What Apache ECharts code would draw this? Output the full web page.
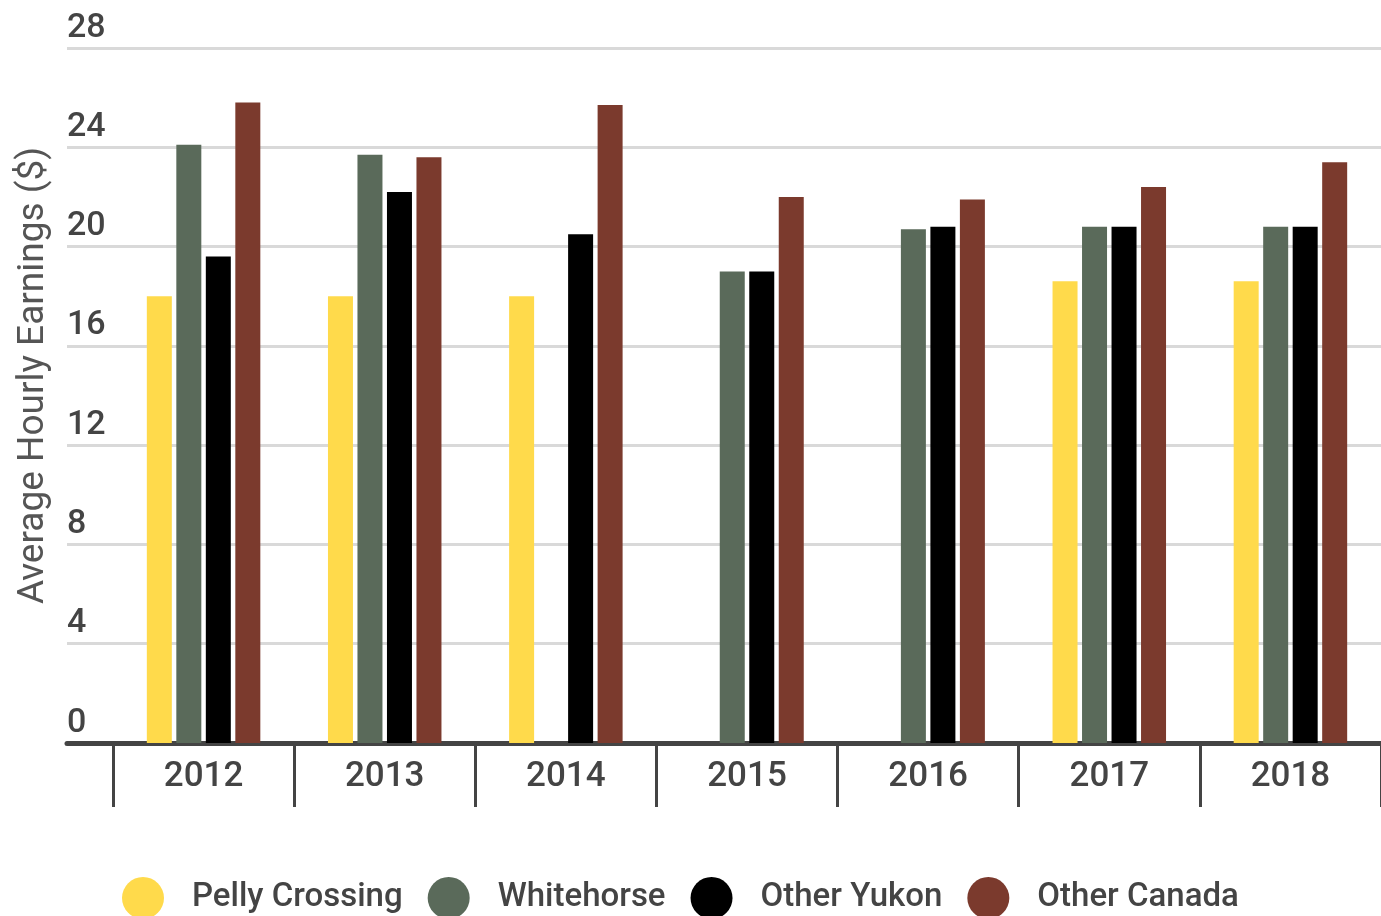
<!DOCTYPE html>
<html><head><meta charset="utf-8">
<script src="https://cdn.jsdelivr.net/npm/echarts@6/dist/echarts.min.js"></script>
<style>html,body{margin:0;padding:0;background:#fff}#c{width:1381px;height:916px}</style>
</head><body><div id="c"></div>
<script>
const categories = ['2012','2013','2014','2015','2016','2017','2018'];
const pellyCrossing = [18.0, 18.0, 18.0, null, null, 18.6, 18.6];
const whitehorse   = [24.1, 23.7, null, 19.0, 20.7, 20.8, 20.8];
const otherYukon   = [19.6, 22.2, 20.5, 19.0, 20.8, 20.8, 20.8];
const otherCanada  = [25.8, 23.6, 25.7, 22.0, 21.9, 22.4, 23.4];
const yTicks = {min: 0, max: 28, interval: 4};
const seriesNames = ['Pelly Crossing','Whitehorse','Other Yukon','Other Canada'];
const colors = ['#FFDA4B','#5A6A5A','#000000','#7B3A2D'];
const seriesData = [pellyCrossing, whitehorse, otherYukon, otherCanada];

const FONT = 'Roboto';
const TXT = '#444444';
const chart = echarts.init(document.getElementById('c'));
chart.setOption({
  animation: false,
  textStyle: {fontFamily: FONT},
  grid: [
    {left: 113, right: 0, top: 48, bottom: 173},
    {left: 67, right: 0, top: 48, bottom: 173}
  ],
  xAxis: [
    {gridIndex: 0, type: 'category', data: categories,
     axisLine: {show: false},
     axisTick: {show: true, length: 64, interval: 0, lineStyle: {color: TXT, width: 3}},
     axisLabel: {color: TXT, fontSize: 35, fontWeight: 500, fontFamily: FONT, margin: 17, interval: 0},
     splitLine: {show: false}},
    {gridIndex: 1, type: 'value', min: 0, max: 1,
     axisLine: {show: true, lineStyle: {color: TXT, width: 5}},
     axisTick: {show: false}, axisLabel: {show: false}, splitLine: {show: false}}
  ],
  yAxis: [
    {gridIndex: 0, type: 'value', min: yTicks.min, max: yTicks.max, interval: yTicks.interval,
     show: false, splitLine: {show: false}},
    {gridIndex: 1, type: 'value', min: yTicks.min, max: yTicks.max, interval: yTicks.interval,
     name: 'Average Hourly Earnings ($)', nameLocation: 'middle', nameRotate: 90, nameGap: 15,
     nameTextStyle: {color: '#555555', fontSize: 37, fontFamily: FONT, padding: [0,0,0,40]},
     axisLine: {show: false}, axisTick: {show: false},
     axisLabel: {inside: true, margin: 0, color: TXT, fontSize: 34, fontWeight: 500, fontFamily: FONT,
                 verticalAlign: 'bottom', lineHeight: 34, padding: [0,0,3,0]},
     splitLine: {show: true, lineStyle: {color: '#D9D9D9', width: 3}}}
  ],
  legend: {
    left: 117, top: 872, itemWidth: 42, itemHeight: 42, itemGap: 25, icon: 'circle',
    data: seriesNames,
    textStyle: {color: TXT, fontSize: 33, fontWeight: 500, fontFamily: FONT, padding: [0,0,0,23]}
  },
  series: seriesNames.map((n, i) => ({
    name: n, type: 'bar', xAxisIndex: 0, yAxisIndex: 0,
    data: seriesData[i], barWidth: 25, barGap: '18%',
    itemStyle: {color: colors[i]}
  }))
});
</script></body></html>
